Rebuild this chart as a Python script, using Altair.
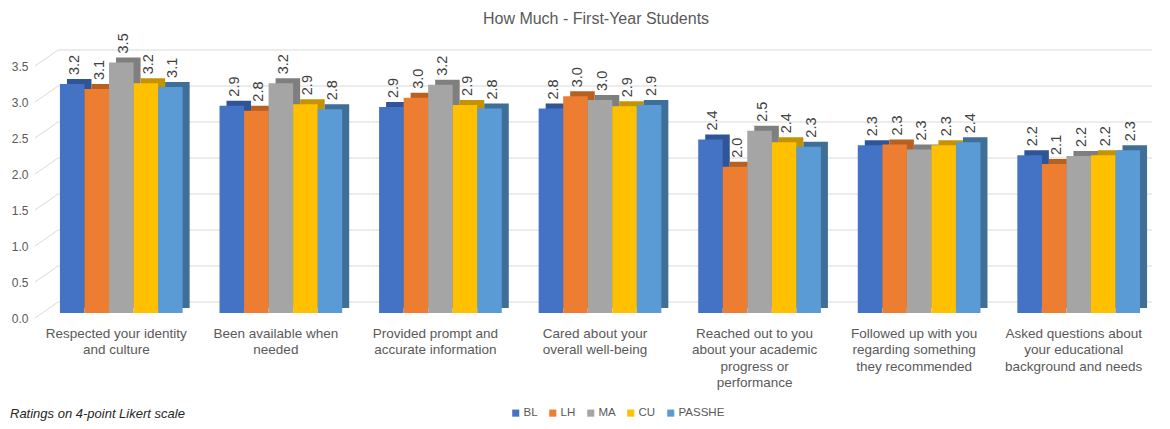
import altair as alt
import pandas as pd

# ---------------- data ----------------
category_lines = [
    ["Respected your identity", "and culture"],
    ["Been available when", "needed"],
    ["Provided prompt and", "accurate information"],
    ["Cared about your", "overall well-being"],
    ["Reached out to you", "about your academic", "progress or", "performance"],
    ["Followed up with you", "regarding something", "they recommended"],
    ["Asked questions about", "your educational", "background and needs"],
]
categories = ["\n".join(lines) for lines in category_lines]

series = ["BL", "LH", "MA", "CU", "PASSHE"]
front_colors = ["#4472C4", "#ED7D31", "#A5A5A5", "#FFC000", "#5B9BD5"]
side_colors = ["#2F5597", "#B85F22", "#7F7F7F", "#C49300", "#3F6E97"]

bl = [3.18, 2.88, 2.86, 2.84, 2.41, 2.33, 2.19]
lh = [3.11, 2.81, 2.99, 3.01, 2.03, 2.34, 2.07]
ma = [3.48, 3.19, 3.17, 2.96, 2.53, 2.27, 2.18]
cu = [3.19, 2.90, 2.89, 2.87, 2.37, 2.33, 2.19]
passhe = [3.14, 2.83, 2.84, 2.89, 2.31, 2.37, 2.26]

y_ticks = [0.0, 0.5, 1.0, 1.5, 2.0, 2.5, 3.0, 3.5]

title_text = "How Much - First-Year Students"
caption_text = "Ratings on 4-point Likert scale"

# ---------------- table ----------------
rows = []
for s, vals in zip(series, [bl, lh, ma, cu, passhe]):
    for c, v in zip(categories, vals):
        rows.append({"category": c, "series": s, "value": v})
df = pd.DataFrame(rows)
grid_df = pd.DataFrame({"value": y_ticks})
cap_df = pd.DataFrame({"t": [caption_text]})

W, H = 1120, 252
FONT = "Liberation Sans"
BW = 122.7

x_enc = alt.X(
    "category:N",
    sort=categories,
    scale=alt.Scale(paddingInner=0.231, paddingOuter=0.125),
    axis=alt.Axis(
        title=None,
        labelAngle=0,
        labelExpr="split(datum.label, '\\n')",
        ticks=False,
        domain=False,
        grid=False,
        labelPadding=13,
        labelOffset=-5,
        labelFont=FONT,
        labelFontSize=13.5,
        labelColor="#595959",
        labelLimit=0,
        labelLineHeight=16.5,
        labelBaseline="top",
    ),
)
y_scale = alt.Scale(domain=[0, 3.5], nice=False)
y_axis = alt.Axis(
    title=None,
    values=y_ticks,
    format=".1f",
    grid=False,
    ticks=False,
    domain=False,
    labelPadding=12,
    labelOffset=5,
    labelFont=FONT,
    labelFontSize=12,
    labelColor="#595959",
)
y_enc = alt.Y("value:Q", scale=y_scale, axis=y_axis)

base = alt.Chart(df)

# back-wall gridlines (3D look)
grid = alt.Chart(grid_df).mark_rule(color="#D9D9D9", strokeWidth=1, yOffset=-11).encode(
    y=y_enc,
    x=alt.value(18),
    x2=alt.value(1112),
)
diag = alt.Chart(grid_df).mark_rule(color="#D9D9D9", strokeWidth=1, yOffset=5, y2Offset=-11).encode(
    y=y_enc,
    y2=alt.Y2("value:Q"),
    x=alt.value(-5),
    x2=alt.value(18),
)

side = base.mark_bar(yOffset=-5).encode(
    x=x_enc,
    xOffset=alt.XOffset("series:N", sort=series, scale=alt.Scale(range=[7, BW + 7])),
    y=y_enc,
    color=alt.Color("series:N", sort=series, scale=alt.Scale(domain=series, range=side_colors), legend=None),
)

front = base.mark_bar().encode(
    x=x_enc,
    xOffset=alt.XOffset("series:N", sort=series, scale=alt.Scale(range=[0, BW])),
    y=y_enc,
    fill=alt.Fill(
        "series:N",
        sort=series,
        scale=alt.Scale(domain=series, range=front_colors),
        legend=alt.Legend(
            title=None,
            orient="none",
            direction="horizontal",
            legendX=470,
            legendY=346,
            symbolType="square",
            symbolSize=50,
            symbolStrokeWidth=0,
            labelFont=FONT,
            labelFontSize=11.5,
            labelColor="#595959",
            labelOffset=2,
            columnPadding=9,
            padding=0,
        ),
    ),
)

labels = base.mark_text(
    angle=270, align="left", baseline="middle", dx=9, font=FONT, fontSize=14.5, color="#404040"
).encode(
    x=x_enc,
    xOffset=alt.XOffset("series:N", sort=series, scale=alt.Scale(range=[3, BW + 3])),
    y=y_enc,
    text=alt.Text("value:Q", format=".1f"),
)

caption = alt.Chart(cap_df).mark_text(
    align="left", baseline="middle", font=FONT, fontSize=13, fontStyle="italic", color="#262626"
).encode(x=alt.value(-30), y=alt.value(353), text="t:N")

chart = (
    alt.layer(grid, diag, side, front, labels, caption)
    .resolve_scale(xOffset="independent", color="independent")
    .properties(
        width=W,
        height=H,
        title=alt.TitleParams(
            title_text, font=FONT, fontSize=16, fontWeight="normal", color="#595959",
            anchor="middle", offset=6, dx=-4,
        ),
        autosize=alt.AutoSizeParams(type="none"),
        padding={"left": 32, "top": 53, "right": 2, "bottom": 108},
    )
    .configure_view(stroke=None)
)

chart.save("out.html", embed_options={"renderer": "svg", "actions": False})
